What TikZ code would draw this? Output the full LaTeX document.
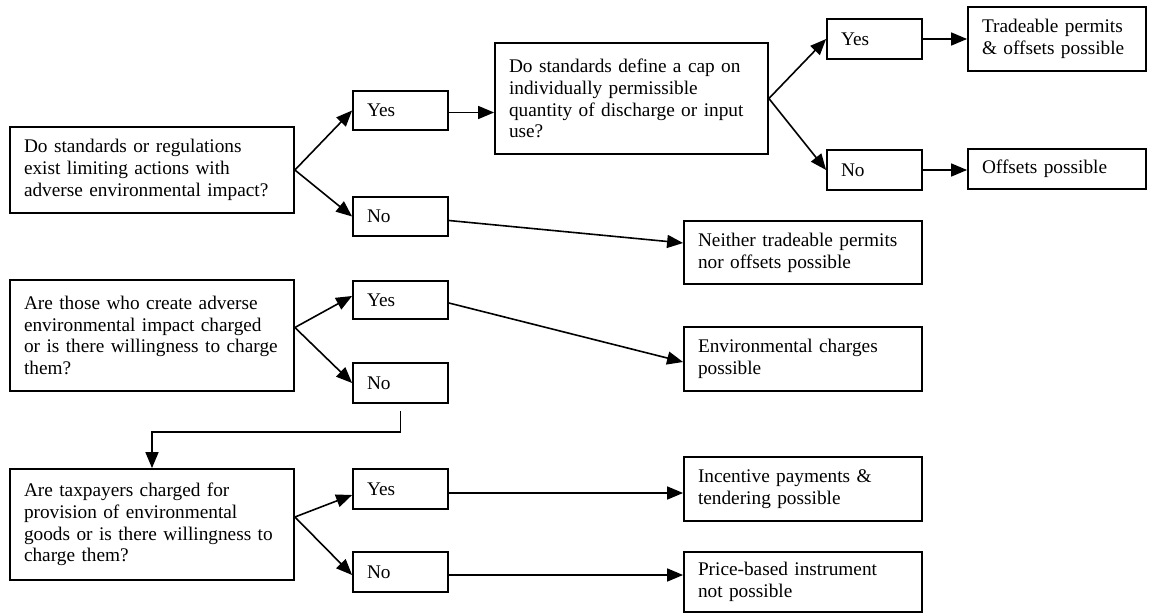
\documentclass[tikz,border=0pt]{standalone}
\usepackage{fontspec}
\setmainfont{Liberation Serif}
\usetikzlibrary{arrows.meta,calc}
\newcommand{\fsz}{\fontsize{19.3pt}{21.8pt}\selectfont}
\tikzset{
  bx/.style={draw, line width=1.8pt, rectangle, inner xsep=14pt, inner ysep=0pt,
    align=left, anchor=center, font=\fsz},
  qbox/.style={bx, text width=256pt, minimum height=#1},
  ynbox/.style={bx, text width=67pt, minimum height=#1},
  conn/.style={line width=1.6pt, -{Triangle[length=16pt,width=13pt]}},
  plain/.style={line width=1.6pt}
}
\begin{document}
\begin{tikzpicture}[x=1pt,y=-1pt]
\useasboundingbox (0,0) rectangle (1149,613);
% left questions
\node[qbox=86pt] (Q1) at (152,170) {Do standards or regulations\\exist limiting actions with\\adverse environmental impact?};
\node[qbox=111pt] (Q3) at (152,335.5) {Are those who create adverse\\environmental impact charged\\or is there willingness to charge\\them?};
\node[qbox=111pt] (Q4) at (152,524.5) {Are taxpayers charged for\\provision of environmental\\goods or is there willingness to\\charge them?};
% yes/no boxes
\node[ynbox=39pt] (Y1) at (400.5,110.5) {Yes};
\node[ynbox=39pt] (N1) at (400.5,216.5) {No};
\node[ynbox=38pt] (Y3) at (400.5,300) {Yes};
\node[ynbox=40pt] (N3) at (400.5,383) {No};
\node[ynbox=40pt] (Y4) at (400.5,489) {Yes};
\node[ynbox=40pt] (N4) at (400.5,572) {No};
% second question
\node[bx, text width=245pt, minimum height=111pt] (Q2) at (631.5,98.5) {Do standards define a cap on\\individually permissible\\quantity of discharge or input\\use?};
\node[ynbox=40pt] (Y2) at (874.5,39) {Yes};
\node[ynbox=40pt] (N2) at (874.5,170) {No};
% outcomes
\node[bx, text width=150pt, minimum height=64pt] (T1) at (1057,39) {Tradeable permits\\\&\ offsets possible};
\node[bx, text width=150pt, minimum height=40pt] (T2) at (1057,169) {Offsets possible};
\node[bx, text width=210pt, minimum height=63pt] (R1) at (803,252.5) {Neither tradeable permits\\nor offsets possible};
\node[bx, text width=210pt, minimum height=64pt] (E1) at (803,359) {Environmental charges\\possible};
\node[bx, text width=210pt, minimum height=64pt] (I1) at (803,489) {Incentive payments \&\\tendering possible};
\node[bx, text width=210pt, minimum height=60pt] (P1) at (803,582) {Price-based instrument\\not possible};
% connectors
\draw[conn] (Q1.east) -- (Y1.west);
\draw[conn] (Q1.east) -- (N1.west);
\draw[conn] ($(Y1.east)+(0,2)$) -- ($(Y1.east -| Q2.west)+(0,2)$);
\draw[conn] (Q2.east) -- (Y2.west);
\draw[conn] (Q2.east) -- (N2.west);
\draw[conn] (Y2.east) -- (Y2.east -| T1.west);
\draw[conn] (N2.east) -- (N2.east -| T2.west);
\draw[conn] ($(N1.east)+(0,4)$) -- ($(R1.west)+(0,-9.5)$);
\coordinate (q3s) at ($(Q3.east)+(0,-8)$);
\draw[conn] (q3s) -- ($(Y3.west)+(0,-4)$);
\draw[conn] (q3s) -- (N3.west);
\draw[conn] ($(Y3.east)+(0,3)$) -- ($(E1.west)+(0,3)$);
\draw[conn] ($(N3.south)+(0,7)$) |- ($(Q4.north)+(0,-36)$) -| (Q4.north);
\coordinate (q4s) at ($(Q4.east)+(0,-7.5)$);
\draw[conn] (q4s) -- ($(Y4.west)+(0,6)$);
\draw[conn] (q4s) -- ($(N4.west)+(0,3)$);
\draw[conn] ($(Y4.east)+(0,4)$) -- ($(Y4.east -| I1.west)+(0,4)$);
\draw[conn] ($(N4.east)+(0,3)$) -- ($(N4.east -| P1.west)+(0,3)$);
\end{tikzpicture}
\end{document}
